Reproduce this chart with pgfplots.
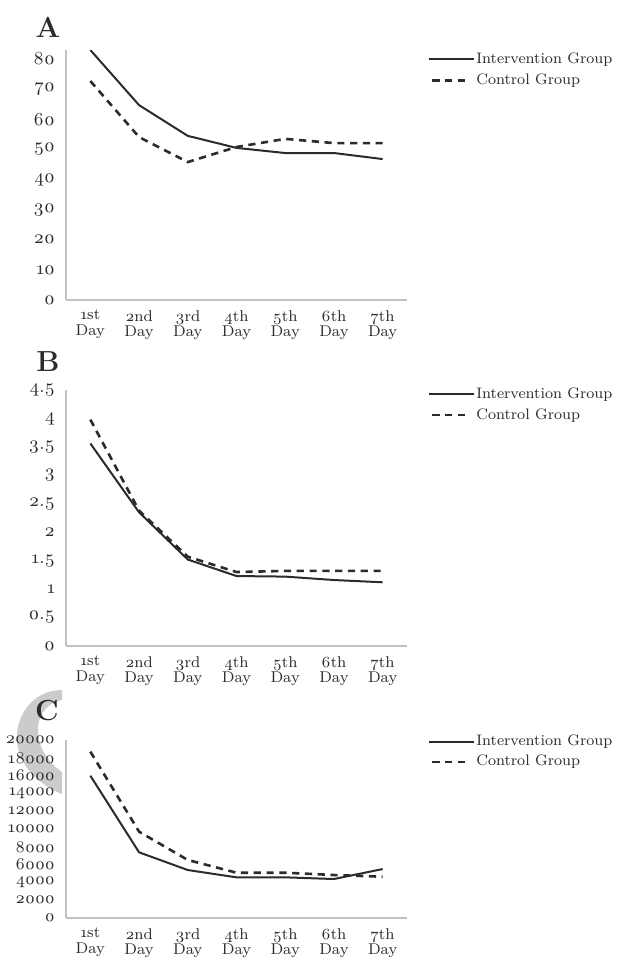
\documentclass[border=0pt]{standalone}
\usepackage{fontspec}
\setmainfont{Latin Modern Roman}[Numbers=OldStyle]
\usepackage{pgfplots}
\pgfplotsset{compat=1.18}

\definecolor{axgray}{HTML}{C2C2C2}
\definecolor{ink}{HTML}{2B2B2B}
\definecolor{logogray}{HTML}{CBCBCB}

\pgfplotsset{
  panel/.style={
    scale only axis, width=170.5pt, anchor=south west,
    xmin=0.5, xmax=7.5, xtick={1,...,7},
    xticklabels={{1st\\Day},{2nd\\Day},{3rd\\Day},{4th\\Day},{5th\\Day},{6th\\Day},{7th\\Day}},
    axis x line=bottom, axis y line=left,
    axis line style={axgray, line width=1.2pt, -},
    tick style={draw=none}, major tick length=0pt,
    scaled y ticks=false,
    /pgf/number format/assume math mode=true,
    /pgf/number format/set thousands separator={},
    tick label style={text=ink},
    xticklabel style={font=\fontsize{7.8}{7.6}\selectfont, align=center, yshift=-1.6pt},
    yticklabel style={font=\fontsize{9.2}{9.2}\selectfont, xshift=-2pt},
    legend style={draw=none, fill=none, at={(1.0616,1)}, anchor=north west,
      inner sep=0pt, row sep=2.6pt, column sep=0pt,
      nodes={inner sep=0.5pt}, font=\fontsize{7.6}{8.5}\selectfont, text=ink},
    legend cell align=left,
    legend image code/.code={\draw[#1] (0pt,0pt) -- (22.5pt,0pt);},
  },
  int/.style={ink, line width=1pt},
  ctl/.style={ink, line width=1.3pt, dash pattern=on 3.6pt off 2.8pt,
    legend image code/.code={\draw[##1] (1.5pt,0pt) -- (19.5pt,0pt);}},
}

\begin{document}
\begin{tikzpicture}
\useasboundingbox (0,0) rectangle (308.5pt,-479.5pt);

% grey mark behind panel C
\begin{scope}[x=0.5pt, y=-0.5pt]
\fill[logogray] (62,690) .. controls (32,690) and (12,718) .. (18,748)
  .. controls (23,770) and (42,786) .. (62,794) -- (62,772)
  .. controls (48,762) and (38,748) .. (38,730)
  .. controls (38,712) and (50,702) .. (62,700) -- cycle;
\end{scope}

% Panel A
\begin{axis}[panel, at={(33pt,-150pt)}, height=125pt,
  ymin=0, ymax=83, ytick={0,10,...,80}, legend style={yshift=-0.6pt, row sep=2.8pt}]
\addplot[int] coordinates {(1,83) (2,64.7) (3,54.5) (4,50.5) (5,48.8) (6,48.8) (7,46.8)};
\addplot[ctl] coordinates {(1,72.7) (2,54.1) (3,45.8) (4,50.8) (5,53.5) (6,52.1) (7,52.1)};
\legend{Intervention Group, Control Group}
\end{axis}

% Panel B
\begin{axis}[panel, at={(33pt,-323pt)}, height=128pt,
  ymin=0, ymax=4.5, ytick={0,0.5,...,4.5}, legend style={yshift=2pt}]
\addplot[int] coordinates {(1,3.56) (2,2.35) (3,1.52) (4,1.23) (5,1.22) (6,1.16) (7,1.12)};
\addplot[ctl] coordinates {(1,3.98) (2,2.38) (3,1.57) (4,1.30) (5,1.32) (6,1.32) (7,1.32)};
\legend{Intervention Group, Control Group}
\end{axis}

% Panel C
\begin{axis}[panel, at={(33pt,-459pt)}, height=89pt,
  ymin=0, ymax=20000, ytick={0,2000,...,20000}, legend style={yshift=3.3pt, row sep=2.3pt},
  yticklabel style={font=\fontsize{8.2}{8.2}\selectfont}]
\addplot[int] coordinates {(1,15990) (2,7380) (3,5390) (4,4570) (5,4570) (6,4380) (7,5500)};
\addplot[ctl] coordinates {(1,18690) (2,9700) (3,6520) (4,5090) (5,5090) (6,4830) (7,4640)};
\legend{Intervention Group, Control Group}
\end{axis}

\begin{scope}[x=0.5pt, y=-0.5pt, every node/.style={font=\bfseries\fontsize{14.5}{14.5}\selectfont, text=ink}]
\node at (48,27) {A};
\node at (48,362) {B};
\node at (47,711) {C};
\end{scope}
\end{tikzpicture}
\end{document}
